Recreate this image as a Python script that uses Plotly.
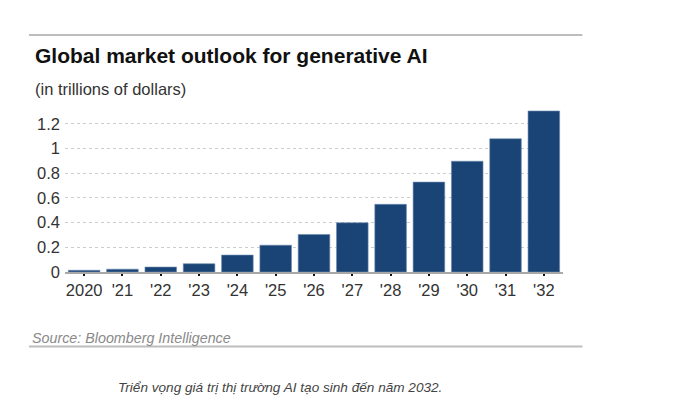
import plotly.graph_objects as go

years = ["2020", "'21", "'22", "'23", "'24", "'25", "'26", "'27", "'28", "'29", "'30", "'31", "'32"]
values = [0.014, 0.023, 0.040, 0.067, 0.137, 0.217, 0.304, 0.399, 0.548, 0.728, 0.897, 1.079, 1.304]
y_ticks = [0, 0.2, 0.4, 0.6, 0.8, 1, 1.2]
y_tick_labels = ["0", "0.2", "0.4", "0.6", "0.8", "1", "1.2"]

title = "Global market outlook for generative AI"
subtitle = "(in trillions of dollars)"
source = "Source: Bloomberg Intelligence"
caption = "Triển vọng giá trị thị trường AI tạo sinh đến năm 2032."

W, H = 678, 401
ML, MR, MT, MB = 65, 115.4, 109.3, 129.3
PW, PH = W - ML - MR, H - MT - MB


def px(x):
    return (x - ML) / PW


def py(y):
    return 1 - (y - MT) / PH


fig = go.Figure(go.Bar(
    x=years, y=values,
    marker=dict(color="#1b4476", line=dict(width=0.6, color="#6d8bb0")),
    hoverinfo="x+y",
))

fig.update_layout(
    width=W, height=H,
    margin=dict(l=ML, r=MR, t=MT, b=MB, pad=0),
    paper_bgcolor="white", plot_bgcolor="white",
    bargap=0.175,
    showlegend=False,
    font=dict(family="Liberation Sans, Arial, sans-serif", color="#333333"),
)
fig.update_xaxes(
    type="category", showgrid=False, showline=True, linecolor="#a8a8a8", linewidth=1.5,
    ticks="outside", ticklen=2, tickwidth=2, tickcolor="#111111",
    tickfont=dict(size=16.5, color="#333333"),
)
fig.update_yaxes(
    range=[0, 1.32], tickvals=y_ticks, ticktext=y_tick_labels,
    showgrid=True, gridcolor="#cccccc", gridwidth=1.2, griddash="dot",
    zeroline=False, showline=False, ticks="", ticklabelstandoff=4,
    tickfont=dict(size=16.5, color="#333333"),
)

annotations = [
    dict(text="<b>" + title + "</b>", x=px(33), y=py(56), xanchor="left", yanchor="middle",
         font=dict(size=21, color="#111111")),
    dict(text=subtitle, x=px(33), y=py(89), xanchor="left", yanchor="middle",
         font=dict(size=16.5, color="#333333")),
    dict(text="<i>" + source + "</i>", x=px(30), y=py(337), xanchor="left", yanchor="middle",
         font=dict(size=14.3, color="#8a8a8a")),
    dict(text="<i>" + caption + "</i>", x=px(279.5), y=py(387), xanchor="center", yanchor="middle",
         font=dict(size=13.6, color="#444444")),
]
for a in annotations:
    a.update(xref="paper", yref="paper", showarrow=False)
fig.update_layout(annotations=annotations)

shapes = [
    dict(type="line", x0=px(29), x1=px(582), y0=py(35.5), y1=py(35.5), line=dict(color="#bdbdbd", width=2)),
    dict(type="line", x0=px(29), x1=px(582), y0=py(346), y1=py(346), line=dict(color="#bdbdbd", width=2)),
]
for s in shapes:
    s.update(xref="paper", yref="paper")
fig.update_layout(shapes=shapes)

fig.write_html("out.html")
